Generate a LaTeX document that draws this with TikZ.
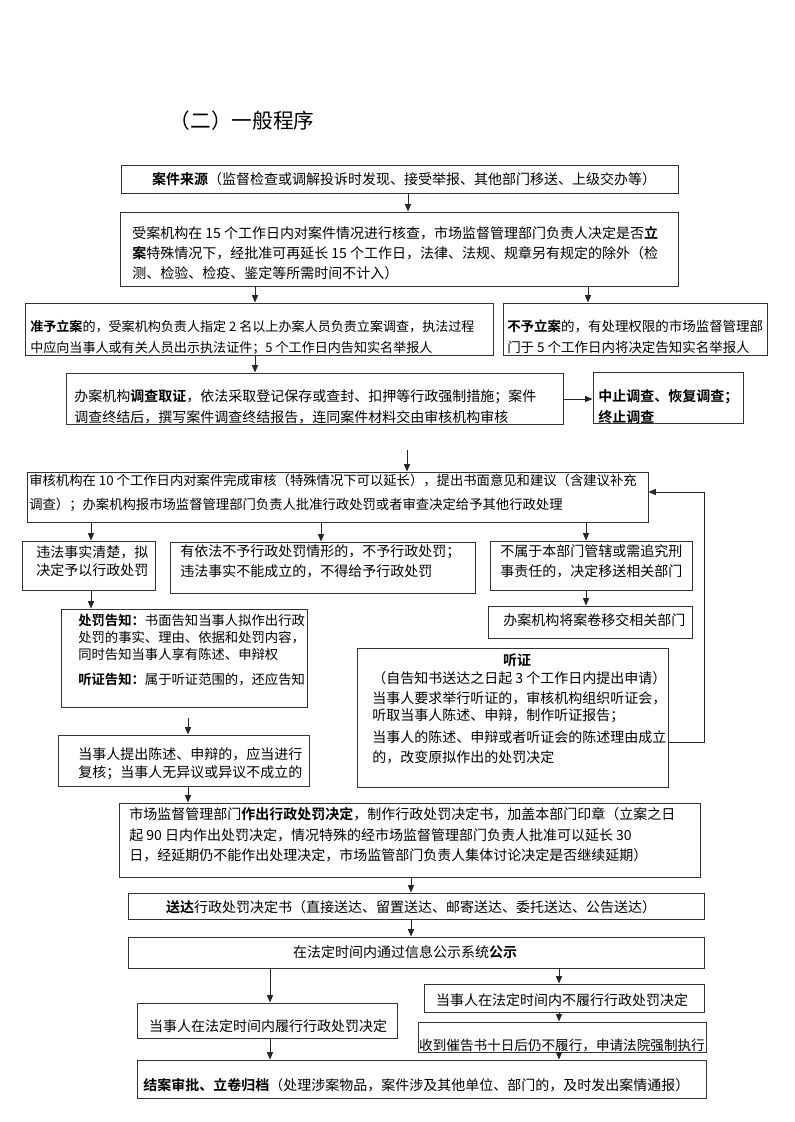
\documentclass[tikz,border=0pt]{standalone}
\usepackage{fontspec}
\setmainfont{Noto Sans CJK SC}[BoldFont={* Bold}]
\usetikzlibrary{arrows.meta,fit}

\tikzset{
	box/.style={draw=black!80, line width=0.7pt, inner sep=0pt},
	txt/.style={inner sep=0pt, align=left, anchor=west, font=\fontsize{10.5}{15}\selectfont},
	arr/.style={-{Triangle[length=5.5pt,width=4.5pt]}, line width=0.7pt, draw=black!85},
}

\begin{document}
\begin{tikzpicture}[x=0.75pt,y=-0.75pt]
			\useasboundingbox (0,0) rectangle (794,1122);
			\node[inner sep=0pt, font=\fontsize{15.5}{18}\selectfont] (title) at (242,121) {（二）一般程序};

			\node[box, fit={(121,165) (678,193)}] (source) {};
			\node[txt, anchor=center] (source-t) at (404,179) {\textbf{案件来源}（监督检查或调解投诉时发现、接受举报、其他部门移送、上级交办等）};
			\node[box, fit={(120,212) (678,286)}] (accept) {};
			\node[txt] (accept-t) at (132,253) {受案机构在 15 个工作日内对案件情况进行核查，市场监督管理部门负责人决定是否\textbf{立}\\\textbf{案}特殊情况下，经批准可再延长 15 个工作日，法律、法规、规章另有规定的除外（检\\测、检验、检疫、鉴定等所需时间不计入）};

			\node[box, fit={(25,303) (493,355)}] (filing) {};
			\node[txt, font=\fontsize{9.8}{15.75}\selectfont] (filing-t) at (30,337) {\textbf{准予立案}的，受案机构负责人指定 2 名以上办案人员负责立案调查，执法过程\\中应向当事人或有关人员出示执法证件；5 个工作日内告知实名举报人};
			\node[box, fit={(503,303) (767,355)}] (nofiling) {};
			\node[txt, font=\fontsize{10.1}{15.75}\selectfont] (nofiling-t) at (507,337) {\textbf{不予立案}的，有处理权限的市场监督管理部\\门于 5 个工作日内将决定告知实名举报人};

			\node[box, fit={(66,373) (563,424)}] (invest) {};
			\node[txt, font=\fontsize{10.5}{15.75}\selectfont] (invest-t) at (74,407) {办案机构\textbf{调查取证}，依法采取登记保存或查封、扣押等行政强制措施；案件\\调查终结后，撰写案件调查终结报告，连同案件材料交由审核机构审核};
			\node[box, fit={(593,372) (743,423)}] (suspend) {};
			\node[txt, font=\fontsize{10.5}{15.75}\selectfont] (suspend-t) at (598,407) {\textbf{中止调查、恢复调查；}\\\textbf{终止调查}};

			\node[box, fit={(27,472) (648,522)}] (review) {};
			\node[txt, font=\fontsize{10}{18}\selectfont] (review-t) at (29,493) {审核机构在 10 个工作日内对案件完成审核（特殊情况下可以延长），提出书面意见和建议（含建议补充\\调查）；办案机构报市场监督管理部门负责人批准行政处罚或者审查决定给予其他行政处理};

			\node[box, fit={(22,541) (155,590)}] (punish) {};
			\node[txt, font=\fontsize{10.5}{13.5}\selectfont] (punish-t) at (36,561) {违法事实清楚，拟\\决定予以行政处罚};
			\node[box, fit={(170,542) (475,593)}] (nopunish) {};
			\node[txt] (nopunish-t) at (180,561) {有依法不予行政处罚情形的，不予行政处罚；\\违法事实不能成立的，不得给予行政处罚};
			\node[box, fit={(490,541) (692,590)}] (transfer) {};
			\node[txt] (transfer-t) at (500,561) {不属于本部门管辖或需追究刑\\事责任的，决定移送相关部门};

			\node[box, fit={(61,609) (307,707)}] (notice) {};
			\node[txt, font=\fontsize{10}{12.75}\selectfont] (notice-t) at (78,650) {\textbf{处罚告知：}书面告知当事人拟作出行政\\处罚的事实、理由、依据和处罚内容，\\同时告知当事人享有陈述、申辩权\\[6pt]\textbf{听证告知：}属于听证范围的，还应告知};
			\node[box, fit={(488,606) (692,638)}] (handover) {};
			\node[txt] (handover-t) at (503,620) {办案机构将案卷移交相关部门};

			\node[box, fit={(357,648) (668,787)}] (hearing) {};
			\node[txt, anchor=center] (hearing-h) at (517,660) {\textbf{听证}};
			\node[txt, font=\fontsize{10.5}{12.75}\selectfont] (hearing-t) at (372,718) {（自告知书送达之日起 3 个工作日内提出申请）\\[2.25pt]当事人要求举行听证的，审核机构组织听证会，\\听取当事人陈述、申辩，制作听证报告；\\[3.75pt]当事人的陈述、申辩或者听证会的陈述理由成立\\[2.25pt]的，改变原拟作出的处罚决定};

			\node[box, fit={(58,735) (309,786)}] (statement) {};
			\node[txt, font=\fontsize{10.5}{13.5}\selectfont] (statement-t) at (78,764) {当事人提出陈述、申辩的，应当进行\\复核；当事人无异议或异议不成立的};

			\node[box, fit={(119,803) (700,877)}] (decision) {};
			\node[txt, font=\fontsize{10.5}{15.4}\selectfont] (decision-t) at (129,835) {市场监督管理部门\textbf{作出行政处罚决定}，制作行政处罚决定书，加盖本部门印章（立案之日\\起 90 日内作出处罚决定，情况特殊的经市场监督管理部门负责人批准可以延长 30\\日，经延期仍不能作出处理决定，市场监管部门负责人集体讨论决定是否继续延期）};

			\node[box, fit={(128,893) (704,919)}] (deliver) {};
			\node[txt, anchor=center] (deliver-t) at (411,907) {\textbf{送达}行政处罚决定书（直接送达、留置送达、邮寄送达、委托送达、公告送达）};
			\node[box, fit={(128,937) (704,968)}] (publicity) {};
			\node[txt, anchor=center] (publicity-t) at (405,952) {在法定时间内通过信息公示系统\textbf{公示}};

			\node[box, fit={(137,1003) (397,1038)}] (perform) {};
			\node[txt, anchor=center] (perform-t) at (268,1026) {当事人在法定时间内履行行政处罚决定};
			\node[box, fit={(424,984) (704,1012)}] (nonperform) {};
			\node[txt, anchor=center] (nonperform-t) at (562,1000) {当事人在法定时间内不履行行政处罚决定};
			\node[box, fit={(418,1022) (706,1052)}] (enforce) {};
			\node[txt, anchor=center, font=\fontsize{10.2}{15}\selectfont] (enforce-t) at (562,1045) {收到催告书十日后仍不履行，申请法院强制执行};
			\node[box, fit={(137,1060) (706,1098)}] (closing) {};
			\node[txt] (closing-t) at (143,1085) {\textbf{结案审批、立卷归档}（处理涉案物品，案件涉及其他单位、部门的，及时发出案情通报）};

			\draw[arr] (408,0 |- source.south) -- (408,0 |- accept.north);
			\draw[arr] (255,0 |- accept.south) -- (255,0 |- filing.north);
			\draw[arr] (588,0 |- accept.south) -- (588,0 |- nofiling.north);
			\draw[arr] (255,0 |- filing.south) -- (255,0 |- invest.north);
			\draw[arr] (invest.east |- 0,399) -- (suspend.west |- 0,399);
			\coordinate (reviewin) at (407,450);
			\draw[arr] (reviewin) -- (reviewin |- review.north);
			\draw[arr] (91,0 |- review.south) -- (91,0 |- punish.north);
			\draw[arr] (321,0 |- review.south) -- (321,0 |- nopunish.north);
			\draw[arr] (586,0 |- review.south) -- (586,0 |- transfer.north);
			\draw[arr] (91,0 |- punish.south) -- (91,0 |- notice.north);
			\draw[arr] (586,0 |- transfer.south) -- (586,0 |- handover.north);
			\coordinate (noticeout) at (188,718);
			\draw[arr] (noticeout) -- (noticeout |- statement.north);
			\draw[arr] (188,0 |- statement.south) -- (188,0 |- decision.north);
			\draw[arr] (hearing.east |- 0,742) -- (704,742) |- (review.east |- 0,492);
			\draw[arr] (411,0 |- decision.south) -- (411,0 |- deliver.north);
			\draw[arr] (411,0 |- deliver.south) -- (411,0 |- publicity.north);
			\draw[arr] (270,0 |- publicity.south) -- (270,0 |- perform.north);
			\draw[arr] (270,0 |- perform.south) -- (270,0 |- closing.north);
			\draw[arr] (559,0 |- publicity.south) -- (559,0 |- nonperform.north);
			\draw[arr] (559,0 |- nonperform.south) -- (559,0 |- enforce.north);
			\draw[arr] (559,0 |- enforce.south) -- (559,0 |- closing.north);
		\end{tikzpicture}
\end{document}
